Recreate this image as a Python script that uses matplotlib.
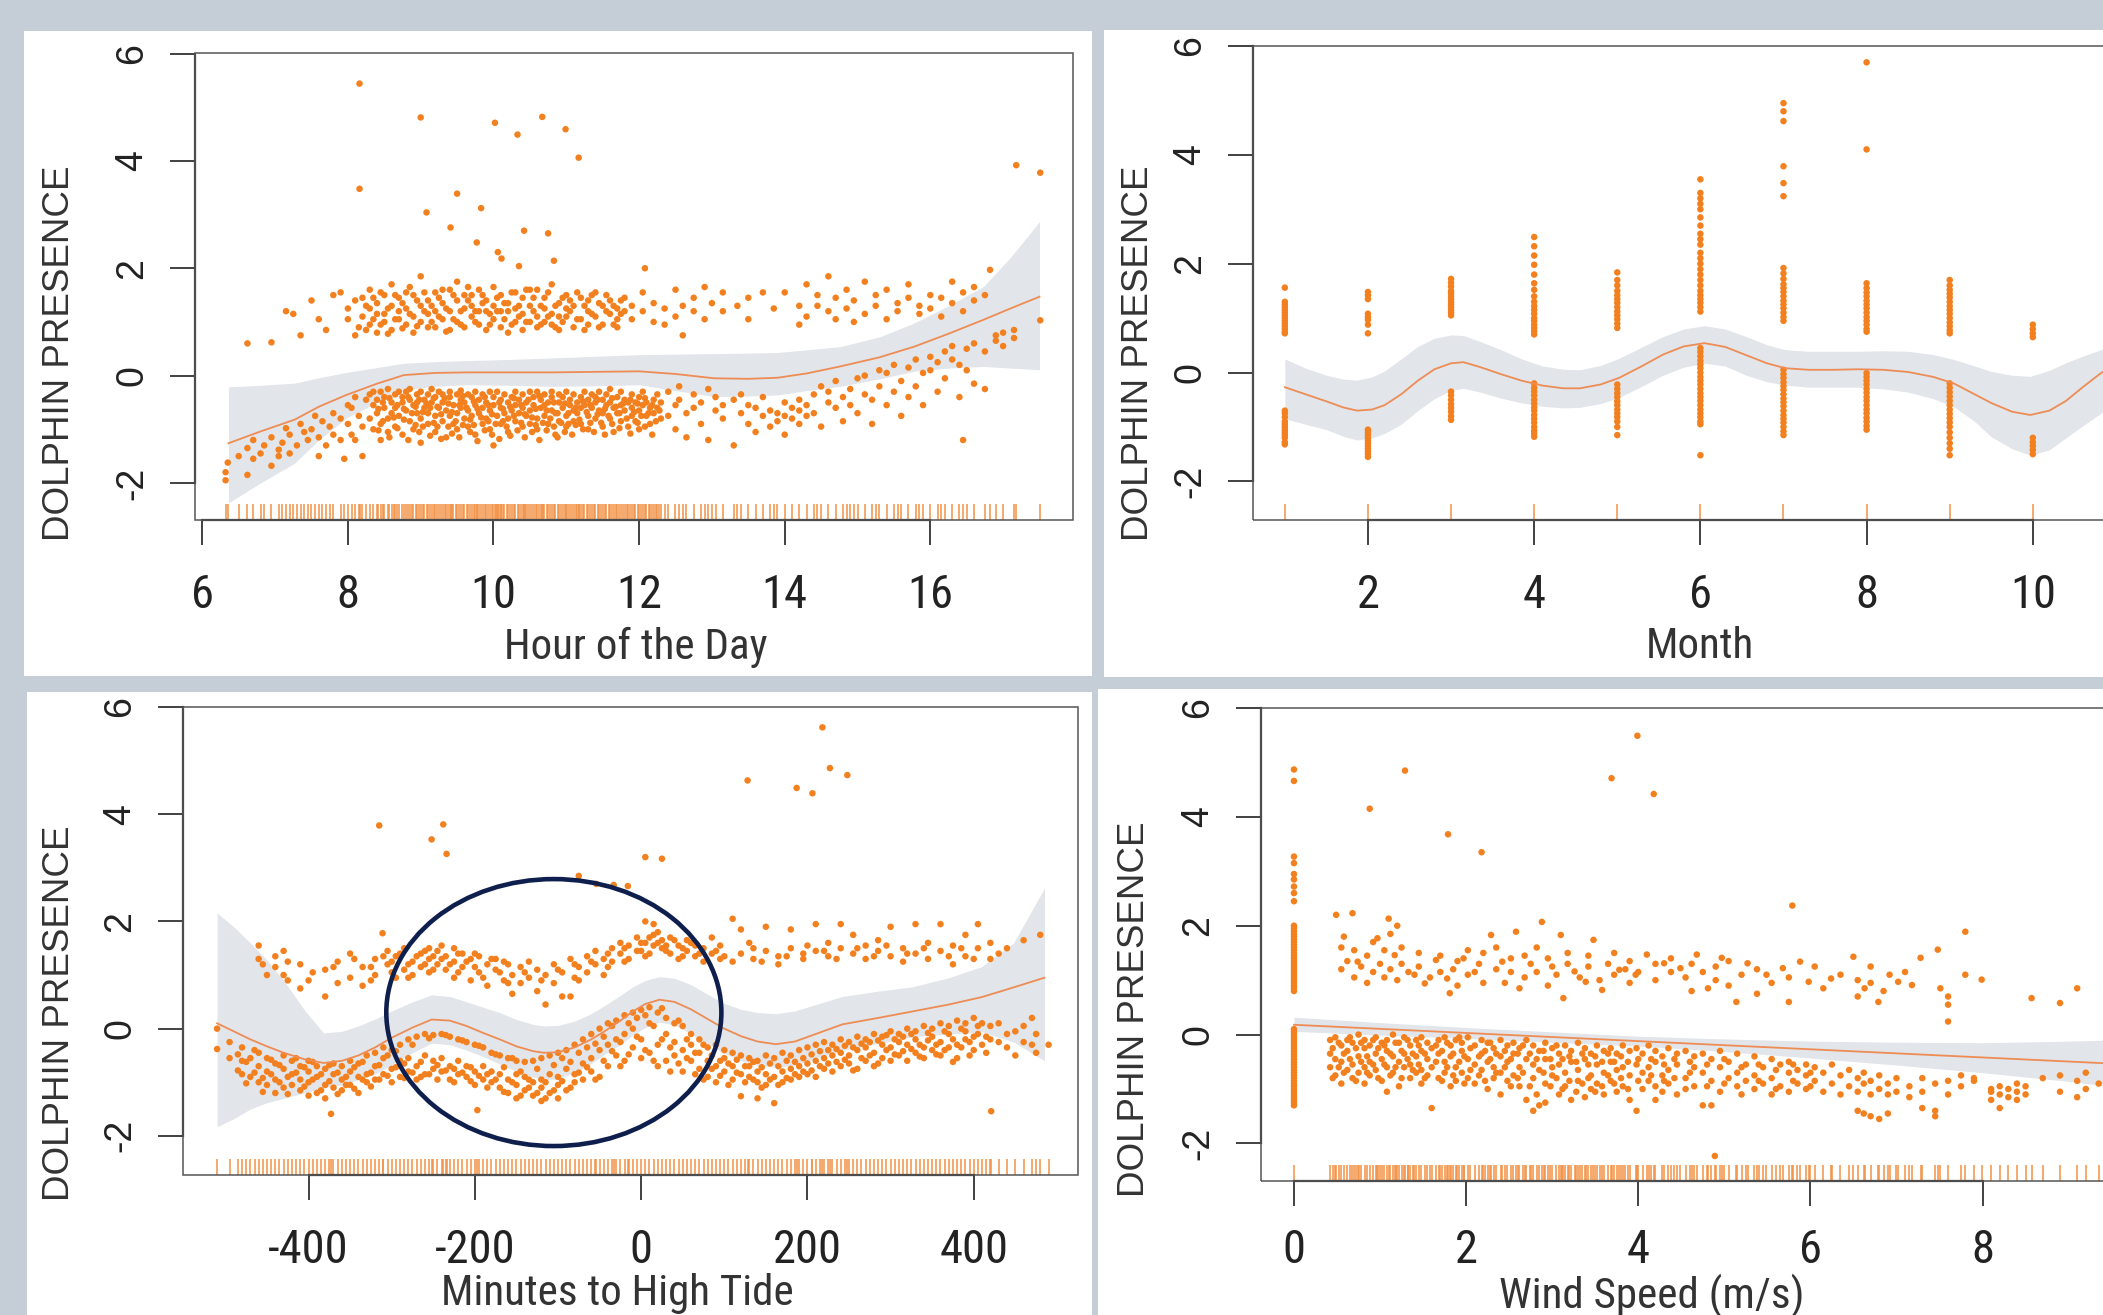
import os
import matplotlib
matplotlib.use("Agg")
import matplotlib.pyplot as plt
from matplotlib import font_manager as fm
from matplotlib.font_manager import FontProperties
from matplotlib.patches import Rectangle, Ellipse
from matplotlib.transforms import blended_transform_factory

plt.rcParams['axes.unicode_minus'] = False

W, H, DPI = 2103, 1315, 100
BG = '#c5cdd7'
ORANGE = '#f3801f'
RUG = '#f29245'
BAND = '#e2e5e9'
LINE = '#ee8c55'
AXC = '#333333'
REG = ['Liberation Sans', 'DejaVu Sans']


def find_narrow_font():
    prefs = ['liberationsansnarrow-regular', 'arialnarrow', 'robotocondensed-regular',
             'dejavusanscondensed.', 'notosans-condensed.', 'opensans-condensedregular',
             'opensans_condensed-regular']
    files = list(fm.findSystemFonts()) + [f.fname for f in fm.fontManager.ttflist]
    low = {}
    for p in files:
        low.setdefault(os.path.basename(p).lower(), p)
    for pref in prefs:
        for name in sorted(low):
            if name.startswith(pref):
                return low[name]
    return None


_narrow_path = find_narrow_font()
if _narrow_path:
    NARROW_PROP = FontProperties(fname=_narrow_path)
    XTICK_SIZE, XLAB_SIZE = 33.5, 31
else:
    NARROW_PROP = FontProperties(family=['Liberation Sans', 'DejaVu Sans'])
    XTICK_SIZE, XLAB_SIZE = 31.5, 28

# ---------------------------------------------------------------- common axis
y_ticks = [-2, 0, 2, 4, 6]
y_tick_labels = ['-2', '0', '2', '4', '6']
y_title = 'DOLPHIN PRESENCE'

# ---------------------------------------------------------------- panel A: hour
hour_ticks = [6, 8, 10, 12, 14, 16]
hour_tick_labels = ['6', '8', '10', '12', '14', '16']
hour_title = 'Hour of the Day'
hour_fit_x = [6.36, 6.8, 7.27, 7.6, 7.98, 8.4, 8.77, 9.2, 9.63, 10.2, 10.81, 11.4, 12.0,
              12.5, 13.03, 13.5, 13.9, 14.3, 14.76, 15.3, 15.78, 16.25, 16.73, 17.1, 17.5]
hour_fit = [-1.26, -1.04, -0.82, -0.58, -0.36, -0.15, 0.01, 0.05, 0.06, 0.06, 0.06, 0.07, 0.08,
            0.03, -0.05, -0.06, -0.04, 0.04, 0.17, 0.34, 0.54, 0.78, 1.04, 1.25, 1.47]
hour_hi = [-0.21, -0.18, -0.14, -0.04, 0.06, 0.15, 0.23, 0.26, 0.28, 0.30, 0.33, 0.36, 0.39,
           0.40, 0.41, 0.42, 0.43, 0.48, 0.54, 0.72, 0.98, 1.30, 1.66, 2.20, 2.87]
hour_lo = [-2.37, -2.0, -1.63, -1.2, -0.79, -0.5, -0.26, -0.2, -0.17, -0.18, -0.20, -0.19, -0.17,
           -0.28, -0.39, -0.38, -0.36, -0.28, -0.20, -0.06, 0.08, 0.14, 0.17, 0.14, 0.11]
hour_early_cols = [(6.32, [-1.95, -1.8]), (6.35, [-1.62]), (6.5, [-1.5]), (6.62, [-1.85, -1.35]),
                   (6.7, [-1.2, -1.55]), (6.8, [-1.45]), (6.85, [-1.3]), (6.95, [-1.15, -1.68]),
                   (7.05, [-1.38, -1.5]), (7.1, [-1.25]), (7.15, [-0.98]), (7.2, [-1.1, -1.45]),
                   (7.3, [-1.3]), (7.35, [-0.9]), (7.4, [-1.05]), (7.45, [-1.2]), (7.5, [-1.0]),
                   (7.55, [-0.75]), (7.6, [-1.15, -1.5]), (7.65, [-0.85]), (7.7, [-1.3]),
                   (7.75, [-0.95]), (7.8, [-0.7, -1.1]), (7.9, [-0.8, -1.2]), (7.95, [-1.55]),
                   (8.0, [-0.9, -0.55]), (8.05, [-0.6, -1.1]), (8.1, [-1.2, -0.4]), (8.15, [-0.75]),
                   (8.2, [-1.5, -0.95]), (8.25, [-0.45])]
hour_low_cols = [(8.30, [-0.35, -0.8]), (8.35, [-0.55, -1.0, -0.3]), (8.40, [-0.7, -0.45]),
                 (8.45, [-0.3, -0.9, -1.2]), (8.50, [-0.6, -0.4]), (8.55, [-0.8, -0.25, -1.05]),
                 (8.60, [-0.5, -0.7]), (8.65, [-0.35, -0.95, -0.6]), (8.70, [-0.3, -0.75]),
                 (8.75, [-0.5, -1.1, -0.4]), (8.80, [-0.65, -0.3]), (8.85, [-0.85, -0.45, -0.25]),
                 (8.90, [-0.55, -1.0]), (8.95, [-0.35, -0.7, -0.5]), (9.00, [-0.8, -0.3, -1.25]),
                 (9.05, [-0.45, -0.6]), (9.10, [-0.9, -0.35, -0.7]), (9.15, [-0.5, -0.25]),
                 (9.20, [-0.75, -1.05, -0.4]), (9.25, [-0.6, -0.3]), (9.30, [-0.85, -0.5, -0.35]),
                 (9.35, [-0.65, -1.15]), (9.40, [-0.4, -0.75, -0.3]), (9.45, [-0.55, -0.9]),
                 (9.50, [-0.35, -0.7, -1.0]), (9.55, [-0.45, -0.6, -0.28]), (9.60, [-0.8, -0.5]),
                 (9.65, [-0.35, -0.95, -0.65]), (9.70, [-0.4, -0.75]), (9.75, [-0.55, -1.1, -0.3]),
                 (9.80, [-0.7, -0.45]), (9.85, [-0.9, -0.35, -0.6]), (9.90, [-0.5, -0.8]),
                 (9.95, [-0.3, -0.65, -1.0]), (10.00, [-0.55, -0.4, -1.3]), (10.05, [-0.75, -0.3]),
                 (10.10, [-0.6, -0.9, -0.45]), (10.15, [-0.35, -0.7]), (10.20, [-0.5, -1.05, -0.8]),
                 (10.25, [-0.4, -0.65]), (10.30, [-0.3, -0.85, -0.55]), (10.35, [-0.7, -0.45]),
                 (10.40, [-0.95, -0.35, -0.6]), (10.45, [-0.5, -0.75]), (10.50, [-0.3, -0.9, -0.65]),
                 (10.55, [-0.55, -0.4]), (10.60, [-0.8, -0.3, -1.0]), (10.65, [-0.6, -0.45]),
                 (10.70, [-0.35, -0.75, -0.55]), (10.75, [-0.9, -0.5]), (10.80, [-0.4, -0.65, -0.3]),
                 (10.85, [-0.7, -1.1]), (10.90, [-0.5, -0.35, -0.85]), (10.95, [-0.6, -0.4]),
                 (11.00, [-0.75, -0.3, -0.95]), (11.05, [-0.55, -0.45]), (11.10, [-0.65, -0.85, -0.35]),
                 (11.15, [-0.5, -0.7]), (11.20, [-0.4, -0.9, -0.6]), (11.25, [-0.3, -0.55]),
                 (11.30, [-0.75, -0.45, -1.0]), (11.35, [-0.6, -0.35]), (11.40, [-0.5, -0.8, -0.4]),
                 (11.45, [-0.65, -0.3]), (11.50, [-0.45, -0.7, -0.95]), (11.55, [-0.55, -0.35]),
                 (11.60, [-0.8, -0.5, -0.25]), (11.65, [-0.6, -1.05]), (11.70, [-0.4, -0.7]),
                 (11.75, [-0.55, -0.85, -0.3]), (11.80, [-0.65, -0.45]), (11.85, [-0.5, -0.95]),
                 (11.90, [-0.35, -0.75, -0.6]), (11.95, [-0.5, -0.85]), (12.00, [-0.65, -0.4, -1.0]),
                 (12.05, [-0.55, -0.3]), (12.10, [-0.75, -0.5]), (12.15, [-0.6, -0.9]),
                 (12.20, [-0.45, -0.7]), (12.25, [-0.35, -0.6]), (12.30, [-0.8, -0.5])]
hour_low2_cols = [(8.42, [-0.62, -1.02]), (8.48, [-0.85, -0.5]), (8.57, [-0.42, -1.15]), (8.63, [-0.78]),
                  (8.68, [-0.55, -0.98]), (8.77, [-0.82, -0.62]), (8.83, [-0.4, -1.2]), (8.88, [-0.7]),
                  (8.93, [-0.92, -0.58]), (8.98, [-0.45, -1.05]), (9.03, [-0.68, -0.95]), (9.08, [-0.52]),
                  (9.13, [-1.12, -0.6]), (9.18, [-0.88, -0.42]), (9.23, [-0.58, -0.95]), (9.28, [-0.72, -1.18]),
                  (9.33, [-0.42]), (9.38, [-0.95, -0.52]), (9.43, [-0.68, -1.08]), (9.48, [-0.85]),
                  (9.53, [-0.55, -1.15]), (9.58, [-0.92, -0.38]), (9.63, [-0.6]), (9.68, [-0.82, -1.05]),
                  (9.73, [-0.48, -0.92]), (9.78, [-0.62, -1.22]), (9.83, [-0.78]), (9.88, [-0.4, -1.02]),
                  (9.93, [-0.85, -0.55]), (9.98, [-0.72, -1.1]), (10.03, [-0.9]), (10.08, [-0.5, -1.18]),
                  (10.13, [-0.85, -0.62]), (10.18, [-0.95]), (10.23, [-0.58, -1.12]), (10.28, [-0.75, -0.42]),
                  (10.33, [-1.02]), (10.38, [-0.55, -0.88]), (10.43, [-0.72, -1.15]), (10.48, [-0.45]),
                  (10.53, [-0.78, -1.05]), (10.58, [-0.62, -0.92]), (10.63, [-0.38, -1.2]), (10.68, [-0.88]),
                  (10.73, [-0.65, -1.02]), (10.78, [-0.8]), (10.83, [-0.5, -0.95]), (10.88, [-0.7, -1.15]),
                  (10.93, [-0.88]), (10.98, [-0.52, -1.05]), (11.03, [-0.7, -0.9]), (11.08, [-1.1]),
                  (11.13, [-0.6, -0.92]), (11.18, [-0.82]), (11.23, [-0.48, -1.0]), (11.28, [-0.68]),
                  (11.33, [-0.88, -0.55]), (11.38, [-1.05]), (11.43, [-0.72, -0.45]), (11.48, [-0.88]),
                  (11.53, [-0.62, -1.1]), (11.58, [-0.75]), (11.63, [-0.42, -0.9]), (11.68, [-0.58]),
                  (11.73, [-0.98, -0.7]), (11.78, [-0.52]), (11.83, [-0.8]), (11.88, [-0.45, -1.08]),
                  (11.93, [-0.68]), (11.98, [-0.88, -0.52]), (12.03, [-0.75]), (12.08, [-0.42, -0.95]),
                  (12.13, [-0.7]), (12.18, [-0.55, -1.1]), (12.23, [-0.85]), (12.28, [-0.65])]
hour_mid_cols = [(12.4, [-0.3, -0.75]), (12.5, [-0.55, -1.0]), (12.55, [-0.2, -0.45]),
                 (12.65, [-0.7, -1.15]), (12.75, [-0.35, -0.6]), (12.85, [-0.5, -0.9]),
                 (12.95, [-0.25, -1.2]), (13.05, [-0.65, -0.4]), (13.15, [-0.8, -0.55]),
                 (13.3, [-1.3, -0.45]), (13.4, [-0.7, -0.35]), (13.5, [-0.9, -0.55]),
                 (13.6, [-0.6, -1.05]), (13.7, [-0.75, -0.4]), (13.8, [-0.95, -0.65]),
                 (13.9, [-0.7, -0.85]), (14.0, [-0.5, -0.75, -1.1]), (14.1, [-0.8, -0.6]),
                 (14.2, [-0.65, -0.45, -0.9]), (14.3, [-0.55, -0.75])]
hour_late_cols = [(14.4, [-0.35, -0.7]), (14.5, [-0.2, -0.95]), (14.6, [-0.5, -0.3]),
                  (14.7, [-0.6, -0.1]), (14.8, [-0.85, -0.4]), (14.9, [-0.25, -0.55]),
                  (15.0, [-0.05, -0.7]), (15.1, [-0.35, 0.0]), (15.2, [-0.45, -0.9]),
                  (15.3, [0.1, -0.2]), (15.4, [-0.55, 0.05]), (15.5, [-0.3, 0.2]),
                  (15.6, [-0.75, -0.1]), (15.7, [0.15, -0.4]), (15.8, [0.3, -0.2]),
                  (15.9, [-0.55, 0.05]), (16.0, [0.35, 0.1]), (16.1, [-0.3, 0.25]),
                  (16.2, [0.45, -0.05]), (16.3, [0.3, 0.55]), (16.4, [-0.4, 0.2]),
                  (16.45, [-1.2]), (16.5, [0.5, 0.1]), (16.6, [0.6, -0.15]), (16.75, [-0.25, 0.45]),
                  (16.9, [0.75, 0.65]), (17.0, [0.8, 0.55]), (17.15, [0.85, 0.7])]
hour_up_cols = [(6.62, [0.6]), (6.95, [0.62]), (7.15, [1.2]), (7.25, [1.15]), (7.35, [0.75]),
                (7.5, [1.4]), (7.6, [1.05]), (7.7, [0.85]), (7.8, [1.5]), (7.9, [1.55]),
                (8.0, [1.05, 1.25]), (8.1, [0.75, 1.4]), (8.15, [0.9]),
                (8.2, [1.1, 1.45]), (8.3, [0.95, 1.25, 1.6]), (8.4, [1.35, 0.8, 1.15]),
                (8.5, [1.15, 1.0, 1.5]), (8.6, [1.3, 0.85, 1.7]), (8.7, [1.05, 1.45, 1.2]),
                (8.8, [1.25, 0.95, 1.55]), (8.9, [1.5, 1.1, 0.8]), (9.0, [1.3, 1.0, 1.85]),
                (9.1, [1.15, 1.4, 0.9]), (9.2, [0.9, 1.55, 1.2]), (9.3, [1.35, 1.05, 1.6]),
                (9.4, [1.6, 1.2, 0.85]), (9.5, [1.0, 1.4, 1.75]), (9.6, [1.25, 0.9, 1.5]),
                (9.7, [1.5, 1.1, 1.3]), (9.8, [0.95, 1.6, 1.2]), (9.9, [1.2, 1.4, 0.85]),
                (10.0, [1.05, 1.3, 1.65]), (10.1, [0.9, 1.5, 1.2]), (10.2, [1.2, 1.35, 0.8]),
                (10.3, [1.55, 1.0, 1.25]), (10.4, [1.15, 0.85, 1.45]), (10.5, [1.3, 1.0, 1.6]),
                (10.6, [1.6, 1.1, 0.9]), (10.7, [1.25, 1.45, 1.0]), (10.8, [0.95, 1.15, 1.7]),
                (10.9, [1.35, 0.85, 1.1]), (11.0, [1.1, 1.5, 1.25]), (11.1, [0.9, 1.3]),
                (11.2, [1.45, 1.05]), (11.3, [1.2, 1.4, 0.95]), (11.4, [1.1, 1.55]),
                (11.5, [1.3, 0.95]), (11.6, [1.15, 1.4]), (11.7, [1.25, 0.9, 1.05]),
                (11.8, [1.45, 1.2]), (11.9, [1.05, 1.3]), (12.05, [1.55, 1.2]), (12.2, [1.0, 1.35]),
                (12.35, [1.25, 0.95]), (12.5, [1.6, 1.1]), (12.6, [0.75, 1.3]), (12.75, [1.45, 1.2]),
                (12.9, [1.05, 1.65]), (13.0, [1.35]), (13.15, [1.2, 1.55]), (13.35, [1.3]),
                (13.5, [1.45, 1.05]), (13.7, [1.55]), (13.85, [1.25]), (14.0, [1.55]),
                (14.2, [0.95, 1.3]), (14.3, [1.7, 1.1]), (14.45, [1.5, 1.3]), (14.6, [1.85, 1.2]),
                (14.7, [1.05, 1.45]), (14.85, [1.6, 1.25]), (14.95, [1.4, 1.0]), (15.1, [1.75, 1.15]),
                (15.25, [1.5, 1.3]), (15.4, [1.6, 1.05]), (15.55, [1.35, 1.2]), (15.7, [1.7, 1.45]),
                (15.85, [1.3, 1.15]), (16.0, [1.5, 1.25]), (16.15, [1.45, 1.1]), (16.3, [1.75, 1.35]),
                (16.45, [1.55, 1.2]), (16.6, [1.65, 1.4]), (16.75, [1.5])]
hour_up2_cols = [(8.25, [1.3, 0.85]), (8.35, [1.45, 1.05]), (8.45, [0.95, 1.55]), (8.55, [1.25, 0.78]),
                 (8.65, [1.05, 1.5]), (8.75, [1.35, 0.88]), (8.85, [1.15, 1.65]), (8.95, [0.92, 1.4]),
                 (9.05, [1.55, 1.2]), (9.15, [1.0, 1.3]), (9.25, [1.45, 1.1]), (9.35, [0.82, 1.25]),
                 (9.45, [1.5, 1.05]), (9.55, [1.2, 0.95]), (9.65, [1.4, 1.65]), (9.75, [1.0, 1.2]),
                 (9.85, [1.35, 1.5]), (9.95, [0.95, 1.15]), (10.05, [1.45, 1.2]), (10.15, [1.05, 1.35]),
                 (10.25, [1.55, 0.95]), (10.35, [1.3, 1.1]), (10.45, [1.6, 1.0]), (10.55, [1.2, 1.45]),
                 (10.65, [0.95, 1.3]), (10.75, [1.55, 1.1]), (10.85, [1.3, 0.9]), (10.95, [1.45, 1.0]),
                 (11.05, [1.2, 1.4]), (11.15, [1.05, 1.55]), (11.25, [1.3, 0.85]), (11.35, [1.15, 1.5]),
                 (11.45, [0.9, 1.35]), (11.55, [1.2, 1.5]), (11.65, [1.3, 0.95]), (11.75, [1.4, 1.15])]
hour_out = [(8.16, 5.44), (9.0, 4.81), (10.02, 4.71), (10.33, 4.49), (10.67, 4.82), (10.99, 4.59),
            (11.17, 4.06), (8.16, 3.48), (9.5, 3.39), (9.08, 3.04), (9.83, 3.12), (9.41, 2.76),
            (9.77, 2.48), (10.42, 2.70), (10.75, 2.65), (10.06, 2.30), (10.11, 2.18), (10.35, 2.04),
            (10.83, 2.14), (12.08, 2.0), (17.18, 3.92), (17.51, 3.78), (17.51, 1.03), (16.82, 1.97)]

# ---------------------------------------------------------------- panel B: month
month_ticks = [2, 4, 6, 8, 10]
month_tick_labels = ['2', '4', '6', '8', '10']
month_title = 'Month'
months = [1, 2, 3, 4, 5, 6, 7, 8, 9, 10]
month_vals = [
    [1.56, 1.3, 1.25, 1.2, 1.15, 1.1, 1.05, 1.0, 0.95, 0.9, 0.85, 0.8, 0.75, 0.72,
     -0.7, -0.75, -0.82, -0.9, -0.95, -1.0, -1.05, -1.1, -1.15, -1.2, -1.28, -1.32],
    [1.48, 1.42, 1.35, 1.08, 1.02, 0.97, 0.88, 0.72,
     -1.05, -1.1, -1.15, -1.2, -1.25, -1.3, -1.35, -1.4, -1.45, -1.5, -1.55],
    [1.72, 1.65, 1.58, 1.5, 1.45, 1.4, 1.35, 1.3, 1.25, 1.2, 1.15, 1.1, 1.05,
     -0.35, -0.42, -0.5, -0.58, -0.65, -0.72, -0.8, -0.87],
    [2.49, 2.32, 2.15, 1.98, 1.8, 1.64, 1.52, 1.4, 1.3, 1.22, 1.15, 1.08, 1.0, 0.95, 0.88, 0.82,
     0.76, 0.7, -0.2, -0.28, -0.35, -0.42, -0.5, -0.57, -0.64, -0.7, -0.78, -0.85, -0.92, -1.0,
     -1.07, -1.12, -1.18],
    [1.84, 1.7, 1.6, 1.5, 1.42, 1.35, 1.28, 1.2, 1.12, 1.05, 0.98, 0.9, 0.82,
     -0.22, -0.3, -0.38, -0.45, -0.53, -0.6, -0.68, -0.75, -0.82, -0.9, -1.0, -1.15],
    [3.55, 3.3, 3.2, 3.1, 3.0, 2.85, 2.7, 2.55, 2.45, 2.35, 2.2, 2.1, 2.0, 1.9, 1.8, 1.7, 1.6,
     1.5, 1.42, 1.35, 1.28, 1.2, 1.12, 0.45, 0.38, 0.3, 0.22, 0.15, 0.08, 0.0, -0.08, -0.15,
     -0.22, -0.3, -0.38, -0.45, -0.52, -0.6, -0.68, -0.75, -0.82, -0.9, -0.95, -1.52],
    [4.95, 4.8, 4.62, 3.79, 3.48, 3.24, 1.92, 1.82, 1.72, 1.62, 1.55, 1.48, 1.4, 1.32, 1.25,
     1.18, 1.1, 1.02, 0.95, 0.05, -0.03, -0.1, -0.18, -0.25, -0.32, -0.4, -0.48, -0.55, -0.62,
     -0.7, -0.78, -0.85, -0.92, -1.0, -1.08, -1.15],
    [5.7, 4.1, 1.64, 1.55, 1.47, 1.4, 1.32, 1.25, 1.18, 1.1, 1.02, 0.95, 0.88, 0.8, 0.75,
     -0.01, -0.08, -0.15, -0.22, -0.3, -0.37, -0.45, -0.52, -0.6, -0.68, -0.75, -0.83, -0.9,
     -0.98, -1.05],
    [1.7, 1.6, 1.52, 1.45, 1.38, 1.3, 1.22, 1.15, 1.08, 1.0, 0.92, 0.85, 0.78, 0.72,
     -0.2, -0.28, -0.36, -0.44, -0.52, -0.6, -0.68, -0.76, -0.84, -0.92, -1.0, -1.1, -1.2,
     -1.3, -1.4, -1.52],
    [0.88, 0.8, 0.72, 0.65, -1.2, -1.28, -1.35, -1.42, -1.5],
]
month_fit_x = [1.0, 1.25, 1.5, 1.7, 1.87, 2.05, 2.2, 2.4, 2.6, 2.8, 3.0, 3.15, 3.35, 3.6, 3.85,
               4.1, 4.35, 4.55, 4.8, 5.02, 5.3, 5.55, 5.8, 6.05, 6.3, 6.55, 6.8, 7.02, 7.3, 7.6,
               7.9, 8.2, 8.5, 8.8, 9.05, 9.3, 9.5, 9.75, 9.97, 10.2, 10.4, 10.6, 10.82, 11.0]
month_fit = [-0.27, -0.4, -0.53, -0.64, -0.7, -0.68, -0.6, -0.4, -0.15, 0.06, 0.17, 0.19, 0.1,
             -0.03, -0.15, -0.24, -0.29, -0.29, -0.22, -0.1, 0.12, 0.33, 0.48, 0.54, 0.47, 0.32,
             0.17, 0.08, 0.05, 0.05, 0.06, 0.05, 0.01, -0.08, -0.2, -0.4, -0.56, -0.72, -0.78,
             -0.7, -0.52, -0.27, -0.01, 0.15]
month_hi = [0.25, 0.08, -0.05, -0.12, -0.14, -0.08, 0.03, 0.25, 0.48, 0.63, 0.69, 0.68, 0.57,
            0.42, 0.25, 0.12, 0.06, 0.05, 0.13, 0.26, 0.47, 0.66, 0.8, 0.86, 0.8, 0.66, 0.51,
            0.42, 0.39, 0.39, 0.39, 0.4, 0.39, 0.33, 0.24, 0.12, 0.02, -0.05, -0.07, 0.04, 0.18,
            0.3, 0.42, 0.6]
month_lo = [-0.85, -0.95, -1.05, -1.17, -1.24, -1.2, -1.12, -0.95, -0.7, -0.48, -0.33, -0.29,
            -0.36, -0.47, -0.56, -0.62, -0.65, -0.64, -0.57, -0.46, -0.25, -0.05, 0.1, 0.17, 0.12,
            -0.05, -0.17, -0.23, -0.27, -0.27, -0.27, -0.3, -0.36, -0.48, -0.63, -0.9, -1.18,
            -1.4, -1.52, -1.42, -1.2, -0.98, -0.75, -0.4]

# ---------------------------------------------------------------- panel C: tide
tide_ticks = [-400, -200, 0, 200, 400]
tide_tick_labels = ['-400', '-200', '0', '200', '400']
tide_title = 'Minutes to High Tide'
tide_fit_x = [-510, -490, -470, -450, -430, -405, -382, -360, -340, -320, -300, -275, -252, -230,
              -210, -190, -170, -150, -130, -117, -100, -80, -60, -44, -25, -10, 5, 22, 40, 60,
              80, 100, 120, 140, 162, 185, 210, 242, 285, 326, 370, 410, 448, 485]
tide_fit = [0.1, -0.05, -0.2, -0.33, -0.45, -0.57, -0.64, -0.6, -0.5, -0.35, -0.17, 0.02, 0.17,
            0.15, 0.05, -0.08, -0.2, -0.33, -0.42, -0.45, -0.44, -0.35, -0.2, -0.05, 0.15, 0.32,
            0.46, 0.54, 0.5, 0.36, 0.18, 0.0, -0.14, -0.24, -0.29, -0.24, -0.1, 0.08, 0.2, 0.32,
            0.45, 0.59, 0.77, 0.95]
tide_hi = [2.16, 1.9, 1.6, 1.28, 0.9, 0.35, -0.08, -0.05, 0.05, 0.18, 0.33, 0.5, 0.63, 0.6, 0.5,
           0.4, 0.3, 0.17, 0.08, 0.05, 0.06, 0.14, 0.28, 0.43, 0.62, 0.78, 0.9, 0.97, 0.94, 0.82,
           0.64, 0.47, 0.36, 0.3, 0.28, 0.33, 0.45, 0.6, 0.7, 0.78, 0.95, 1.16, 1.6, 2.62]
tide_lo = [-1.83, -1.68, -1.5, -1.38, -1.3, -1.2, -1.1, -1.05, -0.95, -0.85, -0.67, -0.45, -0.27,
           -0.3, -0.4, -0.52, -0.66, -0.8, -0.9, -0.95, -0.94, -0.82, -0.65, -0.48, -0.3, -0.12,
           0.02, 0.12, 0.07, -0.1, -0.28, -0.46, -0.6, -0.68, -0.72, -0.68, -0.56, -0.4, -0.28,
           -0.15, -0.1, -0.06, -0.25, -0.6]
tide_low_cols = [(-510, [0.0, -0.38]), (-495, [-0.25, -0.55]), (-480, [-0.35, -0.6, -0.85]),
                 (-470, [-0.55, -0.9]), (-460, [-0.7, -0.45, -1.0]), (-450, [-0.8, -1.05, -0.55]),
                 (-440, [-0.65, -0.95, -1.2]), (-430, [-0.75, -1.1, -0.5]), (-420, [-0.85, -0.6, -1.05]),
                 (-410, [-0.7, -0.95, -1.15]), (-400, [-0.8, -1.0, -0.6, -1.25]), (-390, [-0.9, -1.2, -0.7]),
                 (-380, [-0.75, -1.05, -1.3]), (-370, [-0.85, -1.1, -0.65]), (-360, [-0.95, -0.7, -1.15]),
                 (-350, [-0.8, -1.05, -0.6]), (-340, [-0.65, -0.9, -1.2]), (-330, [-0.5, -0.85, -1.0]),
                 (-320, [-0.7, -0.45, -0.95]), (-310, [-0.55, -0.85, -0.35]), (-300, [-0.4, -0.75, -1.0]),
                 (-290, [-0.3, -0.6, -0.9]), (-280, [-0.2, -0.55, -0.8]), (-270, [-0.15, -0.7, -0.95]),
                 (-260, [-0.1, -0.5, -0.85]), (-250, [-0.12, -0.75, -0.6]), (-240, [-0.1, -0.8, -0.55]),
                 (-230, [-0.15, -0.7, -0.95]), (-220, [-0.2, -0.85, -0.6]), (-210, [-0.25, -0.9, -0.7]),
                 (-200, [-0.3, -0.8, -1.05]), (-190, [-0.35, -0.95, -0.7]), (-180, [-0.45, -1.0, -0.8]),
                 (-170, [-0.5, -1.1, -0.85]), (-160, [-0.55, -0.95, -1.2]), (-150, [-0.6, -1.05, -0.85, -1.3]),
                 (-140, [-0.62, -1.15, -0.9]), (-130, [-0.6, -1.0, -1.25]), (-120, [-0.55, -0.95, -1.1, -1.35]),
                 (-110, [-0.5, -0.85, -1.2]), (-100, [-0.45, -0.9, -1.05, -1.3]), (-90, [-0.4, -0.75, -1.15]),
                 (-80, [-0.3, -0.85, -1.0]), (-70, [-0.2, -0.65, -0.95]), (-60, [-0.1, -0.55, -0.8]),
                 (-50, [0.0, -0.4, -0.9]), (-40, [0.1, -0.3, -0.7]), (-30, [0.15, -0.5, -0.2]),
                 (-20, [0.25, -0.1, -0.6]), (-10, [0.3, -0.35, 0.0]), (0, [0.35, -0.2, -0.55]),
                 (10, [0.4, 0.1, -0.45]), (20, [0.3, -0.3, -0.7]), (30, [0.2, -0.1, -0.6]),
                 (40, [0.1, -0.5, -0.25]), (50, [0.05, -0.4, -0.8]), (60, [-0.1, -0.6, -0.3]),
                 (70, [-0.2, -0.75, -0.45]), (80, [-0.35, -0.6, -0.9]), (90, [-0.3, -0.7, -1.0]),
                 (100, [-0.4, -0.8, -0.55]), (110, [-0.45, -0.95, -0.7]), (120, [-0.5, -0.85, -1.26]),
                 (130, [-0.55, -0.9, -0.7]), (140, [-0.6, -1.0, -0.8, -1.3]), (150, [-0.5, -0.85, -1.05]),
                 (160, [-0.55, -0.9, -1.39]), (170, [-0.45, -0.8, -1.0]), (180, [-0.5, -0.75, -0.95]),
                 (190, [-0.4, -0.7, -0.9]), (200, [-0.35, -0.65, -0.85]), (210, [-0.3, -0.6, -0.9]),
                 (220, [-0.25, -0.55, -0.75]), (230, [-0.3, -0.5, -0.8]), (240, [-0.2, -0.45, -0.7]),
                 (250, [-0.25, -0.5, -0.65]), (260, [-0.15, -0.4, -0.75]), (270, [-0.2, -0.35, -0.6]),
                 (280, [-0.1, -0.45, -0.7]), (290, [-0.15, -0.3, -0.55]), (300, [-0.05, -0.35, -0.6]),
                 (310, [-0.1, -0.25, -0.5]), (320, [0.0, -0.3, -0.6]), (330, [-0.05, -0.2, -0.45]),
                 (340, [0.05, -0.35, -0.55]), (350, [0.0, -0.15, -0.4]), (360, [0.1, -0.25, -0.5]),
                 (370, [0.05, -0.1, -0.35]), (380, [0.15, -0.3, -0.55]), (390, [0.1, -0.05, -0.2]),
                 (400, [0.2, -0.15, -0.4]), (410, [0.1, -0.3]), (420, [0.05, -0.2]), (440, [-0.1, -0.35]),
                 (460, [-0.25, 0.05]), (475, [-0.45, -0.1]), (490, [-0.3])]
tide_low2_cols = [(-485, [-0.48, -0.78]), (-475, [-0.62, -1.02]), (-465, [-0.82, -0.4]), (-455, [-0.92, -1.18]),
                  (-445, [-0.58, -0.85]), (-435, [-1.0, -0.68]), (-425, [-0.9, -1.22]), (-415, [-0.55, -0.82]),
                  (-405, [-1.08, -0.72]), (-395, [-0.95, -0.62]), (-385, [-1.15, -0.85]), (-375, [-0.68, -0.98]),
                  (-365, [-1.22, -0.82]), (-355, [-0.9, -1.05]), (-345, [-0.72, -1.12]), (-335, [-0.95, -0.62]),
                  (-325, [-0.82, -1.08]), (-315, [-0.68, -0.95]), (-305, [-0.5, -0.88]), (-295, [-0.72, -0.42]),
                  (-285, [-0.65, -0.92]), (-275, [-0.3, -0.82]), (-265, [-0.62, -0.9]), (-255, [-0.18, -0.85]),
                  (-245, [-0.68, -0.95]), (-235, [-0.12, -0.78]), (-225, [-0.75, -1.0]), (-215, [-0.22, -0.82]),
                  (-205, [-0.72, -0.98]), (-195, [-0.32, -0.88]), (-185, [-0.85, -1.1]), (-175, [-0.48, -0.95]),
                  (-165, [-0.72, -1.18]), (-155, [-0.55, -1.0]), (-145, [-0.8, -1.25]), (-135, [-0.95, -1.1]),
                  (-125, [-0.75, -1.2]), (-115, [-1.0, -1.3]), (-105, [-0.68, -1.15]), (-95, [-0.55, -0.98]),
                  (-85, [-0.62, -1.1]), (-75, [-0.45, -0.82]), (-65, [-0.35, -0.72]), (-55, [-0.28, -0.95]),
                  (-45, [-0.15, -0.6]), (-35, [0.05, -0.42]), (-25, [-0.25, -0.7]), (-15, [0.1, -0.48]),
                  (-5, [0.2, -0.15]), (5, [0.25, -0.4]), (15, [0.05, -0.6]), (25, [0.38, -0.2]),
                  (35, [-0.35, -0.8]), (45, [0.15, -0.65]), (55, [-0.2, -0.55]), (65, [-0.45, -0.85]),
                  (75, [-0.3, -0.95]), (85, [-0.5, -0.75]), (95, [-0.6, -0.88]), (105, [-0.65, -1.05]),
                  (115, [-0.58, -0.82]), (125, [-0.7, -1.0]), (135, [-0.62, -0.95]), (145, [-0.72, -1.1]),
                  (155, [-0.65, -0.95]), (165, [-0.7, -1.05]), (175, [-0.6, -0.92]), (185, [-0.62, -0.85]),
                  (195, [-0.55, -0.8]), (205, [-0.48, -0.78]), (215, [-0.42, -0.7]), (225, [-0.4, -0.65]),
                  (235, [-0.38, -0.62]), (245, [-0.32, -0.58]), (255, [-0.35, -0.78]), (265, [-0.28, -0.55]),
                  (275, [-0.25, -0.5]), (285, [-0.22, -0.65]), (295, [-0.4, -0.12]), (305, [-0.2, -0.48]),
                  (315, [-0.15, -0.42]), (325, [-0.38, -0.1]), (335, [-0.3, -0.52]), (345, [-0.22, -0.08]),
                  (355, [-0.3, -0.48]), (365, [-0.05, -0.4]), (375, [-0.2, -0.62]), (385, [0.0, -0.35]),
                  (395, [-0.25, -0.5]), (405, [0.05, -0.1]), (415, [-0.15, -0.45]), (430, [0.1, -0.25]),
                  (450, [-0.05, -0.5]), (470, [0.2, -0.3])]
tide_up_cols = [(-460, [1.55, 1.3]), (-450, [1.0]), (-440, [1.35, 1.15]), (-425, [0.9, 1.25]),
                (-410, [0.75, 1.2]), (-395, [1.05]), (-380, [0.6, 1.1]), (-365, [0.85, 1.25]),
                (-350, [0.95, 1.4]), (-335, [1.15, 0.8]), (-320, [1.3, 1.0]), (-305, [1.2, 1.45]),
                (-295, [0.95, 1.35]), (-285, [1.1, 1.5]), (-275, [1.25, 1.0]), (-265, [1.4, 1.15]),
                (-255, [1.3, 1.5, 1.05]), (-245, [1.2, 1.45]), (-235, [1.35, 1.1]), (-225, [1.25, 1.5, 0.95]),
                (-215, [1.15, 1.4]), (-205, [1.3, 0.9]), (-195, [1.05, 1.35]), (-185, [1.2, 0.8]),
                (-175, [1.1, 1.3]), (-165, [0.9, 1.25]), (-155, [1.0, 0.65]), (-145, [1.15, 0.85]),
                (-135, [0.95, 1.25]), (-125, [0.7, 1.1]), (-115, [1.0, 0.45]), (-105, [0.85, 1.2]),
                (-95, [1.05, 0.6]), (-85, [0.6, 1.3]), (-75, [1.15, 0.9]), (-65, [1.35, 1.05]),
                (-55, [1.2, 1.45]), (-45, [1.3, 1.0]), (-35, [1.5, 1.25]), (-25, [1.4, 1.6]),
                (-15, [1.55, 1.3]), (-5, [1.7, 1.45]), (5, [1.6, 1.35, 2.0]), (15, [1.55, 1.75, 1.95]),
                (25, [1.5, 1.65]), (35, [1.7, 1.4]), (45, [1.55, 1.3]), (55, [1.45, 1.65]),
                (65, [1.35, 1.55]), (75, [1.25, 1.5]), (85, [1.4, 1.7]), (95, [1.3, 1.55]),
                (110, [1.25, 2.05]), (120, [1.4, 1.85]), (135, [1.3, 1.5]), (150, [1.45, 1.9]),
                (165, [1.35, 1.2]), (180, [1.5, 1.85]), (195, [1.4, 1.3]), (210, [1.45, 1.95]),
                (225, [1.35, 1.6]), (240, [1.5, 1.95]), (255, [1.4, 1.75]), (270, [1.3, 1.55]),
                (285, [1.45, 1.65]), (300, [1.35, 1.9]), (315, [1.5, 1.25]), (330, [1.4, 1.95]),
                (345, [1.3, 1.6]), (360, [1.45, 1.95]), (375, [1.2, 1.55]), (390, [1.35, 1.75]),
                (405, [1.5, 1.95]), (420, [1.6, 1.3]), (440, [1.5]), (460, [1.65]), (480, [1.75])]
tide_up2_cols = [(-455, [1.2]), (-430, [1.45, 1.0]), (-400, [0.9]), (-370, [1.15]), (-345, [1.3]),
                 (-325, [0.9, 1.15]), (-310, [1.35]), (-300, [1.05, 1.25]), (-290, [1.4]), (-280, [1.2, 0.95]),
                 (-270, [1.35]), (-260, [1.2, 1.45]), (-250, [1.1, 1.35]), (-240, [1.3, 1.55]), (-230, [1.2]),
                 (-220, [1.4, 1.05]), (-210, [1.25]), (-200, [1.15, 1.4]), (-190, [0.95]), (-180, [1.3]),
                 (-170, [1.05]), (-160, [1.2, 0.85]), (-140, [1.05]), (-120, [0.9]), (-100, [1.1]),
                 (-80, [0.95, 1.2]), (-60, [1.25]), (-40, [1.15, 1.4]), (-20, [1.25, 1.5]), (0, [1.45, 1.6]),
                 (10, [1.7, 1.4]), (20, [1.6, 1.8]), (30, [1.45, 1.55]), (40, [1.65]), (50, [1.35, 1.5]),
                 (60, [1.6]), (70, [1.4]), (90, [1.45]), (100, [1.35]), (130, [1.6]), (145, [1.25]),
                 (175, [1.35]), (200, [1.55]), (220, [1.45]), (235, [1.3]), (260, [1.5]), (280, [1.35]),
                 (295, [1.55]), (320, [1.4]), (340, [1.5]), (370, [1.35]), (385, [1.5]), (400, [1.3]),
                 (430, [1.4])]
tide_out = [(218, 5.62), (128, 4.63), (187, 4.49), (206, 4.39), (227, 4.86), (248, 4.73),
            (-315, 3.79), (-238, 3.81), (-252, 3.53), (-234, 3.26), (5, 3.2), (25, 3.17),
            (-75, 2.85), (-54, 2.70), (-33, 2.68), (-16, 2.66), (-311, 1.78), (421, -1.54),
            (-373, -1.59), (-197, -1.52)]
# highlight ellipse (annotation) in data units of the tide panel
ellipse_center = (-105, 0.3)
ellipse_width = 403
ellipse_height = 4.98

# ---------------------------------------------------------------- panel D: wind
wind_ticks = [0, 2, 4, 6, 8]
wind_tick_labels = ['0', '2', '4', '6', '8']
wind_title = 'Wind Speed (m/s)'
wind_fit_x = [0, 1, 2, 3, 4, 5, 6, 7, 8, 9, 10]
wind_fit = [0.18, 0.105, 0.03, -0.045, -0.12, -0.195, -0.27, -0.345, -0.42, -0.495, -0.57]
wind_hi = [0.32, 0.22, 0.13, 0.05, -0.03, -0.08, -0.12, -0.14, -0.15, -0.12, -0.08]
wind_lo = [0.06, -0.01, -0.07, -0.14, -0.21, -0.31, -0.43, -0.56, -0.70, -0.86, -1.05]
wind_zero_vals = [4.87, 4.66, 3.27, 3.15, 2.95, 2.85, 2.72, 2.6, 2.45,
                  2.0, 1.95, 1.9, 1.85, 1.8, 1.75, 1.7, 1.65, 1.6, 1.55, 1.5, 1.45, 1.4, 1.35,
                  1.3, 1.25, 1.2, 1.15, 1.1, 1.05, 1.0, 0.95, 0.9, 0.85, 0.8,
                  0.1, 0.05, 0.0, -0.05, -0.1, -0.15, -0.2, -0.25, -0.3, -0.35, -0.4, -0.45,
                  -0.5, -0.55, -0.6, -0.65, -0.7, -0.75, -0.8, -0.85, -0.9, -0.95, -1.0, -1.05,
                  -1.1, -1.15, -1.2, -1.25, -1.3]
wind_up_cols = [(0.49, [2.2]), (0.55, [1.6, 1.2]), (0.58, [1.8]), (0.62, [1.35]), (0.68, [2.23]),
                (0.7, [1.05, 1.55]), (0.74, [1.34]), (0.78, [1.25]), (0.85, [1.45, 0.95]),
                (0.92, [1.7, 1.15]), (0.97, [1.77]), (1.0, [1.3]), (1.05, [1.05, 1.55]), (1.1, [2.13]),
                (1.12, [1.85, 1.2]), (1.17, [1.46]), (1.2, [2.0, 1.0]), (1.25, [1.3, 1.6]),
                (1.33, [1.15]), (1.4, [1.1]), (1.45, [1.25, 1.5]), (1.52, [0.94]), (1.58, [1.05]),
                (1.65, [1.37]), (1.7, [1.45, 1.15]), (1.78, [1.03]), (1.81, [0.76]), (1.85, [1.2]),
                (1.9, [1.35, 0.9]), (1.97, [1.4]), (2.02, [1.1, 1.55]), (2.1, [1.15]), (2.15, [1.3]),
                (2.2, [0.95, 1.5]), (2.29, [1.83]), (2.35, [1.2, 1.6]), (2.42, [1.34]), (2.45, [0.95]),
                (2.52, [1.4, 1.15]), (2.58, [1.89]), (2.62, [0.85]), (2.68, [1.05, 1.45]), (2.75, [1.3]),
                (2.82, [1.15, 1.6]), (2.88, [2.07]), (2.95, [0.9, 1.4]), (3.0, [1.25]), (3.05, [1.1]),
                (3.1, [1.83]), (3.13, [0.67]), (3.18, [1.3, 1.5]), (3.26, [1.16]), (3.32, [1.05]),
                (3.39, [0.97]), (3.42, [1.25, 1.45]), (3.48, [1.74]), (3.55, [1.0]), (3.58, [0.82]),
                (3.65, [1.3]), (3.72, [1.1, 1.5]), (3.78, [1.19]), (3.85, [1.2]), (3.9, [0.95, 1.35]),
                (3.97, [1.1]), (4.0, [1.15]), (4.1, [1.47]), (4.2, [1.0, 1.3]), (4.3, [1.31]),
                (4.38, [1.15, 1.4]), (4.49, [1.22]), (4.55, [1.05]), (4.62, [0.8, 1.3]), (4.68, [1.47]),
                (4.75, [1.15]), (4.81, [0.85]), (4.9, [1.0, 1.25]), (4.97, [1.41]), (5.05, [0.9, 1.35]),
                (5.14, [0.6]), (5.2, [1.1]), (5.27, [1.31]), (5.38, [0.75, 1.2]), (5.49, [1.1]),
                (5.55, [0.95]), (5.68, [1.22]), (5.75, [0.6, 1.05]), (5.88, [1.34]), (5.98, [0.97]),
                (6.05, [1.25]), (6.15, [0.85]), (6.24, [1.03]), (6.35, [1.1]), (6.5, [1.43]),
                (6.55, [0.7, 1.0]), (6.63, [0.85]), (6.7, [0.95, 1.25]), (6.79, [0.6]), (6.85, [0.8]),
                (6.92, [1.1]), (7.02, [0.97]), (7.1, [1.15]), (7.18, [0.91]), (7.28, [1.41]),
                (7.48, [1.56]), (7.51, [0.85]), (7.6, [0.24, 0.55, 0.7]), (7.8, [1.1]), (7.99, [1.01]),
                (8.57, [0.67]), (8.9, [0.58]), (9.1, [0.85])]
wind_low_cols = [(0.42, [-0.1, -0.35, -0.6]), (0.48, [-0.05, -0.45, -0.75]), (0.55, [-0.2, -0.5, -0.9]),
                 (0.62, [-0.1, -0.3, -0.65]), (0.68, [-0.15, -0.55, -0.8]), (0.75, [0.0, -0.4, -0.7]),
                 (0.82, [-0.1, -0.25, -0.6, -0.9]), (0.88, [-0.2, -0.5, -0.75]), (0.95, [-0.05, -0.35, -0.65]),
                 (1.02, [-0.15, -0.45, -0.85]), (1.08, [-0.1, -0.3, -0.6, -1.05]), (1.15, [0.0, -0.4, -0.7]),
                 (1.22, [-0.15, -0.5, -0.95]), (1.28, [-0.05, -0.35, -0.6]), (1.35, [-0.2, -0.55, -0.8]),
                 (1.42, [-0.1, -0.4, -0.7]), (1.48, [-0.05, -0.3, -0.65, -0.9]), (1.55, [-0.15, -0.45, -0.75]),
                 (1.6, [-0.25, -0.6, -1.35]), (1.68, [-0.1, -0.35, -0.8]), (1.75, [-0.05, -0.5, -0.7]),
                 (1.82, [-0.2, -0.4, -0.95]), (1.88, [-0.1, -0.6, -0.85]), (1.95, [-0.15, -0.3, -0.7]),
                 (2.02, [-0.05, -0.45, -0.8]), (2.1, [-0.2, -0.55, -0.9]), (2.18, [-0.1, -0.35, -0.65]),
                 (2.25, [-0.15, -0.5, -1.0]), (2.32, [-0.25, -0.6, -0.8]), (2.4, [-0.1, -0.4, -0.7, -1.1]),
                 (2.48, [-0.2, -0.5, -0.85]), (2.55, [-0.15, -0.35, -0.75]), (2.62, [-0.25, -0.6, -0.95]),
                 (2.7, [-0.1, -0.45, -1.2]), (2.78, [-0.2, -0.55, -0.8, -1.4]), (2.85, [-0.3, -0.65, -1.3]),
                 (2.92, [-0.15, -0.45, -0.9, -1.25]), (3.0, [-0.25, -0.6, -0.75]), (3.08, [-0.35, -0.55, -1.1]),
                 (3.15, [-0.2, -0.7, -0.95]), (3.22, [-0.3, -0.5, -1.2]), (3.3, [-0.15, -0.65, -0.85]),
                 (3.38, [-0.25, -0.45, -1.15]), (3.45, [-0.35, -0.75, -1.0]), (3.52, [-0.2, -0.55, -0.9]),
                 (3.6, [-0.3, -0.7, -1.1]), (3.68, [-0.25, -0.5, -0.85]), (3.75, [-0.35, -0.65, -1.05]),
                 (3.82, [-0.2, -0.6, -0.95]), (3.9, [-0.3, -0.75, -1.2]), (3.98, [-0.25, -0.55, -1.4]),
                 (4.05, [-0.35, -0.7, -1.0]), (4.12, [-0.2, -0.6, -0.85]), (4.2, [-0.3, -0.5, -0.95, -1.2]),
                 (4.28, [-0.4, -0.75, -1.05]), (4.35, [-0.25, -0.65, -0.9]), (4.45, [-0.35, -0.55, -1.1]),
                 (4.55, [-0.3, -0.8, -1.0]), (4.65, [-0.4, -0.6, -0.95]), (4.75, [-0.35, -0.7, -1.3]),
                 (4.85, [-0.45, -0.85, -1.3]), (4.95, [-0.3, -0.6, -1.05]), (5.05, [-0.5, -0.8]),
                 (5.15, [-0.35, -0.7, -0.95]), (5.25, [-0.55, -0.85]), (5.35, [-0.4, -0.75, -1.0]),
                 (5.45, [-0.6, -0.9]), (5.55, [-0.45, -0.8, -1.1]), (5.65, [-0.55, -0.95]),
                 (5.75, [-0.5, -0.7, -1.05]), (5.85, [-0.65, -0.9]), (5.95, [-0.55, -1.0, -0.75]),
                 (6.05, [-0.6, -0.85]), (6.15, [-0.7, -1.05]), (6.25, [-0.55, -0.9]), (6.35, [-0.75, -1.1]),
                 (6.45, [-0.65, -0.95]), (6.55, [-0.8, -1.05, -1.4]), (6.62, [-0.7, -0.9, -1.45]),
                 (6.7, [-0.85, -1.1, -1.5]), (6.8, [-0.75, -1.0, -1.55]), (6.9, [-0.9, -1.1, -1.45]),
                 (7.0, [-0.8, -1.05]), (7.15, [-0.95, -1.15]), (7.3, [-0.8, -1.05, -1.35]),
                 (7.45, [-0.9, -1.5, -1.4]), (7.6, [-0.85, -1.1]), (7.75, [-0.95, -0.75]), (7.9, [-0.85, -0.8]),
                 (8.1, [-1.05, -1.2, -1.0]), (8.2, [-0.95, -1.1, -1.35]), (8.3, [-1.0, -1.15]),
                 (8.4, [-1.05, -1.2, -0.9]), (8.5, [-1.1, -0.95]), (8.7, [-0.8]), (8.9, [-0.75, -1.05]),
                 (9.1, [-0.85, -1.15]), (9.2, [-0.7, -1.0]), (9.35, [-0.9])]
wind_low2_cols = [(0.45, [-0.25, -0.8]), (0.52, [-0.15, -0.6]), (0.58, [-0.35, -0.7]), (0.65, [-0.05, -0.45]),
                  (0.72, [-0.25, -0.85]), (0.78, [-0.5, -0.15]), (0.85, [-0.4, -0.7]), (0.92, [-0.1, -0.55]),
                  (0.98, [-0.25, -0.8]), (1.05, [-0.55, -0.2]), (1.12, [-0.35, -0.75]), (1.18, [-0.15, -0.6]),
                  (1.25, [-0.3, -0.8]), (1.32, [-0.45, -0.1]), (1.38, [-0.35, -0.65]), (1.45, [-0.2, -0.55]),
                  (1.52, [-0.35, -0.8]), (1.65, [-0.5, -0.2]), (1.72, [-0.3, -0.85]), (1.78, [-0.15, -0.6]),
                  (1.85, [-0.35, -0.75]), (1.92, [-0.5, -0.05]), (1.98, [-0.4, -0.9]), (2.05, [-0.25, -0.65]),
                  (2.15, [-0.4, -0.75]), (2.22, [-0.3, -0.85]), (2.28, [-0.45, -0.15]), (2.35, [-0.35, -0.7]),
                  (2.45, [-0.3, -0.6]), (2.52, [-0.45, -0.95]), (2.6, [-0.35, -0.8]), (2.66, [-0.2, -0.7]),
                  (2.74, [-0.35, -0.95]), (2.82, [-0.45, -1.1]), (2.9, [-0.3, -0.7]), (2.98, [-0.45, -0.95]),
                  (3.05, [-0.2, -0.8]), (3.12, [-0.45, -1.0]), (3.2, [-0.4, -0.85]), (3.28, [-0.5, -1.05]),
                  (3.35, [-0.35, -0.9]), (3.42, [-0.55, -0.8]), (3.5, [-0.4, -1.05]), (3.58, [-0.5, -0.95]),
                  (3.65, [-0.35, -0.75]), (3.72, [-0.5, -0.9]), (3.8, [-0.4, -0.8]), (3.88, [-0.5, -1.0]),
                  (4.0, [-0.45, -0.85]), (4.15, [-0.45, -0.75]), (4.3, [-0.55, -0.85]), (4.42, [-0.45, -0.8]),
                  (4.6, [-0.5, -0.7]), (4.8, [-0.55, -0.95]), (5.0, [-0.45, -0.9]), (5.2, [-0.6, -1.1]),
                  (5.4, [-0.55, -0.85]), (5.6, [-0.65, -1.0]), (5.8, [-0.55, -0.85]), (6.0, [-0.7, -0.95])]
wind_out = [(1.29, 4.85), (0.88, 4.15), (1.79, 3.68), (2.18, 3.35), (3.69, 4.71), (3.99, 5.49),
            (4.18, 4.42), (5.79, 2.37), (4.89, -2.23), (7.8, 1.89)]


# ---------------------------------------------------------------- helpers
def expand(cols):
    xs, ys = [], []
    for x, vals in cols:
        for v in vals:
            xs.append(x)
            ys.append(v)
    return xs, ys


def pts(pairs):
    return [p[0] for p in pairs], [p[1] for p in pairs]


def gather(col_groups, outliers):
    xs, ys = [], []
    for cols in col_groups:
        a, b = expand(cols)
        xs += a
        ys += b
    a, b = pts(outliers)
    return xs + a, ys + b


fig = plt.figure(figsize=(W / DPI, H / DPI), dpi=DPI, facecolor=BG)

# white panels (pixel boxes: left, top, right, bottom)
panel_boxes = [(24, 31, 1092, 676), (1104, 30, 2103, 677), (27, 692, 1092, 1315), (1098, 689, 2103, 1315)]
for (x0, y0, x1, y1) in panel_boxes:
    fig.add_artist(Rectangle((x0 / W, 1 - y1 / H), (x1 - x0) / W, (y1 - y0) / H,
                             transform=fig.transFigure, facecolor='white', edgecolor='none', zorder=-10))


def make_axes(box):
    x0, y0, x1, y1 = box
    return fig.add_axes([x0 / W, 1 - y1 / H, (x1 - x0) / W, (y1 - y0) / H])


def draw_panel(box, xlim, ylim, xs, ys, fx, fit, lo, hi, ticks, tick_labels, title,
               xlab_px, ylab_px, xpad=20):
    ax = make_axes(box)
    ax_h = box[3] - box[1]
    ax.set_xlim(xlim)
    ax.set_ylim(ylim)
    ax.set_facecolor('none')
    ax.fill_between(fx, lo, hi, color=BAND, lw=0, zorder=1)
    rug_tr = blended_transform_factory(ax.transData, ax.transAxes)
    ax.vlines(sorted(set(xs)), 0, 16.0 / ax_h, transform=rug_tr, colors=RUG, lw=1.1, zorder=2)
    ax.scatter(xs, ys, s=22, c=ORANGE, edgecolors='none', zorder=3)
    ax.plot(fx, fit, color=LINE, lw=1.3, zorder=4)
    # R style box + axes
    for s in ('top', 'right'):
        ax.spines[s].set_visible(False)
    ax.spines['bottom'].set_bounds(ticks[0], ticks[-1])
    ax.spines['left'].set_bounds(y_ticks[0], y_ticks[-1])
    for s in ('bottom', 'left'):
        ax.spines[s].set_linewidth(1.6)
        ax.spines[s].set_color(AXC)
    ax.add_patch(Rectangle((0, 0), 1, 1, transform=ax.transAxes, fill=False, lw=1.1,
                           edgecolor='#555555', clip_on=False, zorder=5))
    ax.set_xticks(ticks, labels=tick_labels, fontproperties=NARROW_PROP, fontsize=XTICK_SIZE)
    ax.set_yticks(y_ticks, labels=y_tick_labels, family=REG, fontsize=27, rotation=90, va='center')
    ax.tick_params(axis='both', direction='out', length=18, width=1.3, color=AXC,
                   labelcolor='#222222')
    ax.tick_params(axis='x', pad=xpad)
    ax.tick_params(axis='y', pad=14)
    ax.set_xlabel(title, fontproperties=NARROW_PROP, fontsize=XLAB_SIZE, color='#333333', va='center')
    ax.xaxis.set_label_coords(xlab_px[0] / W, 1 - xlab_px[1] / H, transform=fig.transFigure)
    ax.set_ylabel(y_title, fontsize=26.5, family=REG, color='#333333', va='center', ha='center')
    ax.yaxis.set_label_coords(ylab_px[0] / W, 1 - ylab_px[1] / H, transform=fig.transFigure)
    return ax


# panel A
ha_x, ha_y = gather([hour_early_cols, hour_low_cols, hour_low2_cols, hour_mid_cols,
                     hour_late_cols, hour_up_cols, hour_up2_cols], hour_out)
draw_panel((195, 53, 1073, 520), (5.9, 17.96), (-2.69, 6.01), ha_x, ha_y,
           hour_fit_x, hour_fit, hour_lo, hour_hi, hour_ticks, hour_tick_labels, hour_title,
           (636, 647), (60, 353))

# panel B
bx, by = [], []
for m, vals in zip(months, month_vals):
    for v in vals:
        bx.append(m)
        by.append(v)
draw_panel((1253, 46, 2150, 520), (0.617, 11.41), (-2.71, 6.0), bx, by,
           month_fit_x, month_fit, month_lo, month_hi, month_ticks, month_tick_labels, month_title,
           (1700, 647), (1138, 353))

# panel C
cx, cy = gather([tide_low_cols, tide_low2_cols, tide_up_cols, tide_up2_cols], tide_out)
axc = draw_panel((183, 707, 1078, 1175), (-551, 525.4), (-2.73, 6.0), cx, cy,
                 tide_fit_x, tide_fit, tide_lo, tide_hi, tide_ticks, tide_tick_labels, tide_title,
                 (617, 1294), (60, 1013))
axc.add_patch(Ellipse(ellipse_center, ellipse_width, ellipse_height, fill=False,
                      edgecolor='#0f1f4d', lw=3.3, zorder=6))

# panel D
dx, dy = gather([wind_low_cols, wind_low2_cols, wind_up_cols], wind_out)
dx = [0] * len(wind_zero_vals) + dx
dy = list(wind_zero_vals) + dy
draw_panel((1261, 708, 2171, 1181), (-0.383, 10.19), (-2.69, 6.0), dx, dy,
           wind_fit_x, wind_fit, wind_lo, wind_hi, wind_ticks, wind_tick_labels, wind_title,
           (1652, 1296), (1135, 1009), xpad=16)

fig.savefig('out.png', dpi=DPI, facecolor=BG)
